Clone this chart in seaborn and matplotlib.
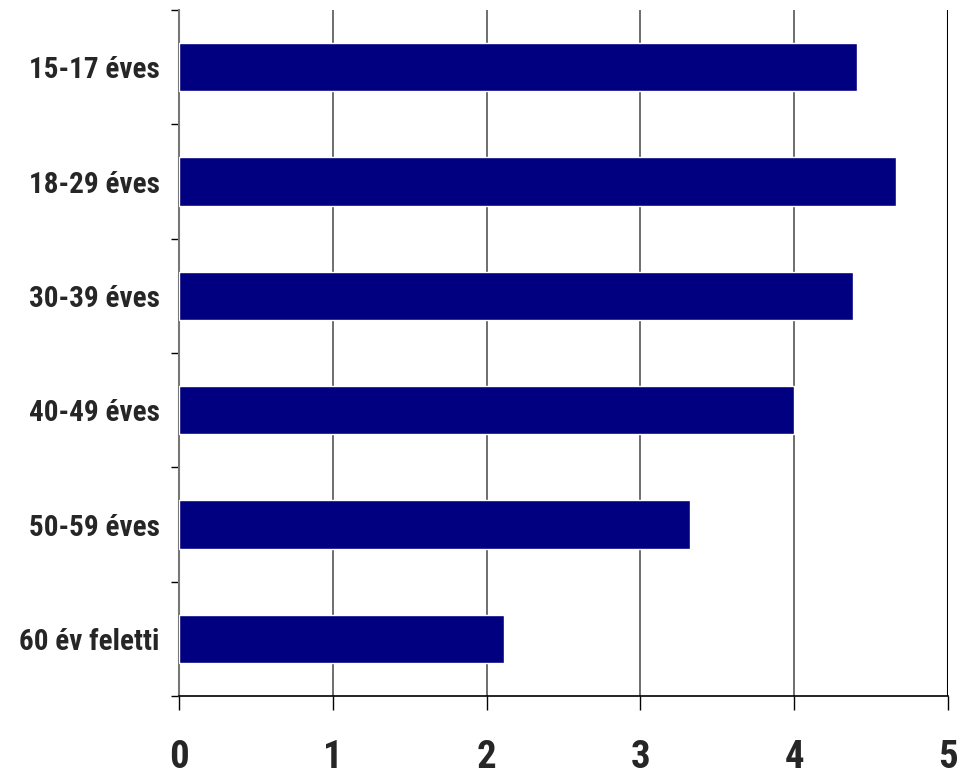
import matplotlib
matplotlib.use("Agg")
import matplotlib.pyplot as plt
import seaborn as sns
import pandas as pd

categories = ["15-17 éves", "18-29 éves", "30-39 éves", "40-49 éves", "50-59 éves", "60 év feletti"]
values = [4.41, 4.66, 4.38, 4.00, 3.32, 2.11]
xticks = [0, 1, 2, 3, 4, 5]

sns.set_theme(style="white")
plt.rcParams['font.family'] = ['Roboto Condensed', 'DejaVu Sans']

df = pd.DataFrame({"cat": categories, "val": values})

fig = plt.figure(figsize=(9.71, 7.81), dpi=100)
ax = fig.add_axes([179/971, 1 - 696/781, (948 - 179)/971, (696 - 10)/781])
sns.barplot(data=df, x="val", y="cat", orient="h", color="#000080", width=0.42,
            saturation=1, ax=ax, zorder=3)
ax.set_xlim(0, 5)
ax.set_ylim(5.5, -0.5)
ax.set_xlabel("")
ax.set_ylabel("")

ax.set_xticks(xticks)
ax.set_xticklabels([str(t) for t in xticks], fontsize=28, fontweight="bold")
ax.tick_params(axis="x", direction="out", length=10, width=1, color="black", pad=21, bottom=True)

ax.set_yticks(range(len(categories)))
ax.set_yticklabels(categories, fontsize=21, fontweight="bold")
ax.tick_params(axis="y", which="major", length=0, pad=14)
ax.set_yticks([i - 0.5 for i in range(len(categories) + 1)], minor=True)
ax.tick_params(axis="y", which="minor", direction="out", length=6, width=1, color="black", left=True)

for x in [1, 2, 3, 4]:
    ax.axvline(x, color="#555555", lw=1.2, zorder=1)
ax.axvline(5, color="black", lw=1.5, zorder=1)

ax.spines["top"].set_visible(False)
ax.spines["right"].set_visible(False)
ax.spines["left"].set_color("#777777")
ax.spines["left"].set_linewidth(1.5)
ax.spines["bottom"].set_color("black")
ax.spines["bottom"].set_linewidth(1.2)
ax.grid(False)

fig.savefig("out.png", dpi=100)
